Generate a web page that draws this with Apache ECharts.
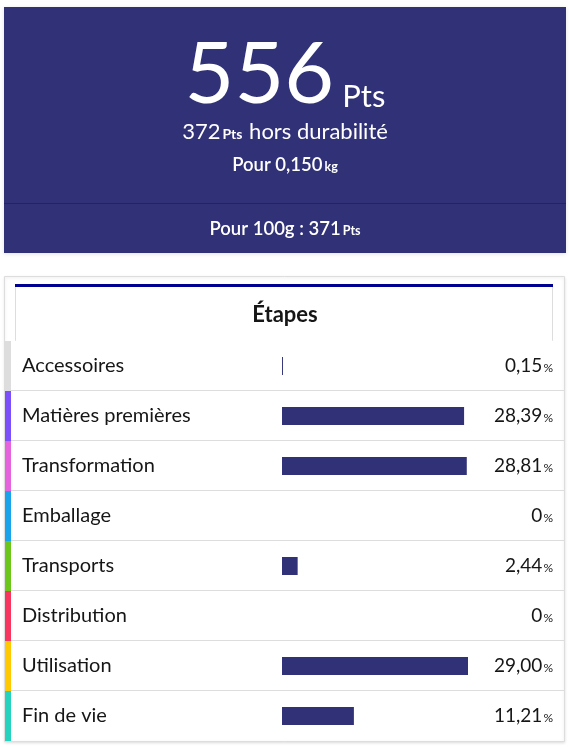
<!DOCTYPE html>
<html>
<head>
<meta charset="utf-8">
<script src="https://cdn.jsdelivr.net/npm/echarts@6/dist/echarts.min.js"></script>
<style>
html,body{margin:0;padding:0;background:#fff;}
#chart{width:570px;height:747px;}
</style>
</head>
<body>
<div id="chart"></div>
<script>
// ---- Data ----
const categories = ['Accessoires', 'Matières premières', 'Transformation', 'Emballage', 'Transports', 'Distribution', 'Utilisation', 'Fin de vie'];
const values = [0.15, 28.39, 28.81, 0, 2.44, 0, 29.00, 11.21];
const valueLabels = ['0,15', '28,39', '28,81', '0', '2,44', '0', '29,00', '11,21'];
const totalPts = '556';
const horsDurabilitePts = '372';
const masse = '0,150';
const pour100gPts = '371';
const tableTitle = 'Étapes';

// ---- Styles ----
const stripColors = ['#dddddd', '#7b4ff9', '#e563dc', '#18a3ea', '#6cc51a', '#f8355f', '#ffc800', '#25d2bd'];
const NAVY = '#313178';
const FONT = 'Lato';
const TXT = '#161616';

const chart = echarts.init(document.getElementById('chart'), null, {renderer: 'canvas'});

const option = {
  animation: false,
  backgroundColor: '#ffffff',
  textStyle: {fontFamily: FONT},
  grid: {left: 282, width: 186, top: 341, height: 400, containLabel: false},
  xAxis: {
    type: 'value', min: 0, max: Math.max(...values),
    show: false
  },
  yAxis: [
    {
      type: 'category', data: categories, inverse: true,
      axisLine: {show: false}, axisTick: {show: false}, splitLine: {show: false},
      axisLabel: {
        align: 'left', margin: 260, fontSize: 20, color: TXT, fontFamily: FONT
      }
    },
    {
      type: 'category', data: categories, inverse: true, position: 'right',
      axisLine: {show: false}, axisTick: {show: false}, splitLine: {show: false},
      axisLabel: {
        align: 'right', margin: 85,
        formatter: (v, i) => '{v|' + valueLabels[i] + '}{p|%}',
        rich: {
          v: {fontSize: 19, color: TXT, fontFamily: FONT},
          p: {fontSize: 12, color: TXT, fontFamily: FONT, padding: [4, 0, 0, 1]}
        }
      }
    }
  ],
  graphic: [
    // top summary box
    {type: 'rect', z: 0, shape: {x: 4, y: 7, width: 562, height: 246},
     style: {fill: NAVY, shadowBlur: 4, shadowColor: 'rgba(0,0,0,0.12)', shadowOffsetY: 1}},
    {type: 'rect', z: 1, shape: {x: 4, y: 203, width: 562, height: 1}, style: {fill: '#232360'}},
    {type: 'text', z: 2, x: 285, y: 118,
     style: {
       text: '{b|' + totalPts + '}{s|Pts}', align: 'center', verticalAlign: 'bottom',
       rich: {
         b: {fontSize: 86, fill: '#fff', fontFamily: FONT, padding: [0, 8, 0, 0], verticalAlign: 'bottom'},
         s: {fontSize: 31, fill: '#fff', fontFamily: FONT, verticalAlign: 'bottom', padding: [0, 0, 6, 0]}
       }
     }},
    {type: 'text', z: 2, x: 285, y: 132,
     style: {
       text: '{a|' + horsDurabilitePts + '}{p|Pts}{a| hors durabilité}', align: 'center', verticalAlign: 'middle',
       rich: {
         a: {fontSize: 22, fill: '#fff', fontFamily: FONT},
         p: {fontSize: 14, fill: '#fff', fontFamily: FONT, fontWeight: 'bold', padding: [5, 1, 0, 2]}
       }
     }},
    {type: 'text', z: 2, x: 285, y: 165,
     style: {
       text: '{a|Pour ' + masse + '}{p|kg}', align: 'center', verticalAlign: 'middle',
       rich: {
         a: {fontSize: 18.5, fill: '#fff', fontFamily: FONT, fontWeight: 600},
         p: {fontSize: 12.5, fill: '#fff', fontFamily: FONT, fontWeight: 'bold', padding: [4, 0, 0, 2]}
       }
     }},
    {type: 'text', z: 2, x: 285, y: 229,
     style: {
       text: '{a|Pour 100g : ' + pour100gPts + '}{p|Pts}', align: 'center', verticalAlign: 'middle',
       rich: {
         a: {fontSize: 18.5, fill: '#fff', fontFamily: FONT, fontWeight: 600},
         p: {fontSize: 12.5, fill: '#fff', fontFamily: FONT, fontWeight: 'bold', padding: [4, 0, 0, 2]}
       }
     }},
    // table box
    {type: 'rect', z: -1, shape: {x: 4.5, y: 276.5, width: 560, height: 465},
     style: {fill: '#fff', stroke: '#dddddd', lineWidth: 1, shadowBlur: 3, shadowColor: 'rgba(0,0,0,0.12)', shadowOffsetY: 1}},
    // header tab
    {type: 'rect', z: 1, shape: {x: 15.5, y: 284.5, width: 537, height: 56},
     style: {fill: '#fff', stroke: '#dddddd', lineWidth: 1}},
    {type: 'rect', z: 2, shape: {x: 15, y: 284, width: 538, height: 3}, style: {fill: '#000091'}},
    {type: 'rect', z: 2, shape: {x: 16, y: 339, width: 536, height: 3}, style: {fill: '#fff'}},
    {type: 'text', z: 3, x: 285, y: 315,
     style: {text: tableTitle, align: 'center', verticalAlign: 'middle', fontSize: 22, fontWeight: 'bold', fill: TXT, fontFamily: FONT}}
  ],
  series: [
    {
      type: 'custom', clip: false, silent: true, z: 1,
      data: categories.map((c, i) => [0, i]),
      renderItem: (params, api) => {
        const idx = api.value(1);
        const c = api.coord([0, idx]);
        const h = api.size([0, 1])[1];
        const top = c[1] - h / 2;
        const children = [
          {type: 'rect', shape: {x: 5, y: top, width: 6, height: h}, style: {fill: stripColors[idx]}}
        ];
        if (idx < categories.length - 1) {
          children.push({type: 'rect', shape: {x: 11, y: top + h - 1, width: 553, height: 1}, style: {fill: '#dddddd'}});
        }
        return {type: 'group', children};
      }
    },
    {
      type: 'bar', data: values, barWidth: 18, z: 2,
      itemStyle: {color: NAVY}, silent: true
    }
  ]
};
chart.setOption(option);
</script>
</body>
</html>
